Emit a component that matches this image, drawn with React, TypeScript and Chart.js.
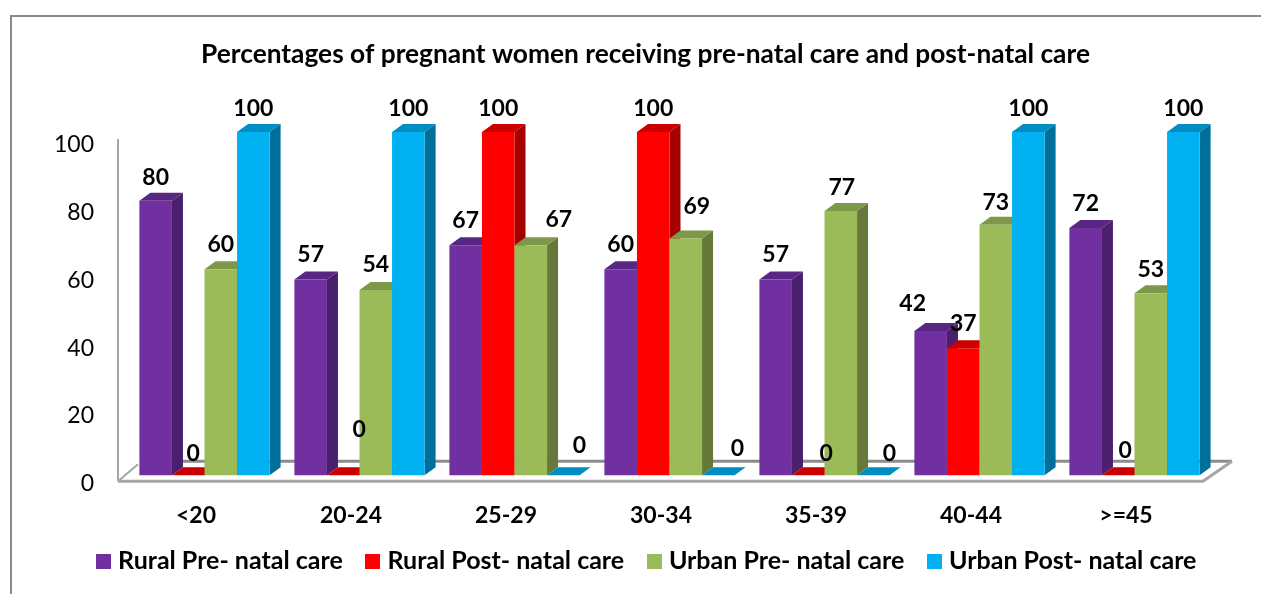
import React, { useEffect, useRef } from "react";
import { Chart, registerables } from "chart.js";

Chart.register(...registerables);

const categories = ["<20", "20-24", "25-29", "30-34", "35-39", "40-44", ">=45"];
const ruralPre = [80, 57, 67, 60, 57, 42, 72];
const ruralPost = [0, 0, 100, 100, 0, 37, 0];
const urbanPre = [60, 54, 67, 69, 77, 73, 53];
const urbanPost = [100, 100, 0, 0, 0, 100, 100];
const wallTicks = [0, 20, 40, 60, 80, 100];
const titleText = "Percentages of pregnant women receiving pre-natal care and post-natal care";

// label nudges [dx, dy] away from the default spot above each bar
const labelNudges: Record<string, [number, number]> = {
  "0:0": [0, 2],
  "0:5": [-18, -3],
  "1:0": [5, 3],
  "1:1": [16, -21],
  "1:2": [0, 2],
  "1:3": [0, 2],
  "1:4": [18, 3],
  "1:6": [7, 0],
  "2:2": [28, -1],
  "2:3": [11, -7],
  "2:4": [1, 2],
  "2:5": [0, 3],
  "2:6": [0, 1],
  "3:0": [0, 2],
  "3:1": [0, 2],
  "3:2": [16, -5],
  "3:3": [19, -2],
  "3:4": [16, 3],
  "3:5": [0, 2],
  "3:6": [0, 2],
};

const FONT = "Lato, Carlito, 'Noto Sans', sans-serif";
const FRONT = ["#7030A0", "#FF0000", "#9BBB59", "#00B0F0"];
const TOPS = ["#5A2683", "#CC0000", "#7D9848", "#008DC1"];
const SIDES = ["#4A1F6B", "#A60000", "#66793A", "#00709A"];
const DX = 11;
const DY = 8;

const makeSwatch = (color: string) => {
  const c = document.createElement("canvas");
  c.width = 15;
  c.height = 15;
  const g = c.getContext("2d") as CanvasRenderingContext2D;
  g.fillStyle = color;
  g.fillRect(0, 0, 15, 15);
  return c;
};

const threeD = {
  id: "threeD",
  afterLayout(chart: any) {
    chart.legend.left += 7;
    chart.scales.x.bottom = chart.height;
  },
  beforeDraw(chart: any) {
    const { ctx, width, height } = chart;
    ctx.save();
    ctx.fillStyle = "#fff";
    ctx.fillRect(0, 0, width, height);
    ctx.strokeStyle = "#8A8A8A";
    ctx.lineWidth = 2;
    ctx.beginPath();
    ctx.moveTo(width, 16);
    ctx.lineTo(11, 16);
    ctx.lineTo(11, height);
    ctx.stroke();
    ctx.restore();
  },
  beforeDatasetsDraw(chart: any) {
    const { ctx, chartArea } = chart;
    const l = chartArea.left - 9;
    const r = chartArea.right - 9;
    const b = chartArea.bottom;
    ctx.save();
    ctx.lineWidth = 3;
    ctx.strokeStyle = "#8C8C8C";
    ctx.beginPath();
    ctx.moveTo(l + 22, b - 20);
    ctx.lineTo(r + 29, b - 20);
    ctx.stroke();
    ctx.strokeStyle = "#A6A6A6";
    ctx.beginPath();
    ctx.moveTo(r + 29, b - 20);
    ctx.lineTo(r, b);
    ctx.lineTo(l, b);
    ctx.stroke();
    ctx.lineWidth = 2;
    ctx.beginPath();
    ctx.moveTo(l, b);
    ctx.lineTo(l + 20, b - 17);
    ctx.moveTo(l, b);
    ctx.lineTo(l, chartArea.top + 7);
    ctx.stroke();
    ctx.restore();

    chart.data.datasets.forEach((_: any, d: number) => {
      const meta = chart.getDatasetMeta(d);
      meta.data.forEach((bar: any) => {
        const { x, y, base, width: w } = bar.getProps(["x", "y", "base", "width"], true);
        const x0 = x - w / 2;
        const x1 = x + w / 2;
        ctx.save();
        ctx.fillStyle = SIDES[d];
        ctx.beginPath();
        ctx.moveTo(x1, y);
        ctx.lineTo(x1 + DX, y - DY);
        ctx.lineTo(x1 + DX, base - DY);
        ctx.lineTo(x1, base);
        ctx.closePath();
        ctx.fill();
        ctx.fillStyle = TOPS[d];
        ctx.beginPath();
        ctx.moveTo(x0, y);
        ctx.lineTo(x0 + DX, y - DY);
        ctx.lineTo(x1 + DX, y - DY);
        ctx.lineTo(x1, y);
        ctx.closePath();
        ctx.fill();
        ctx.restore();
        bar.draw(ctx);
      });
    });
    return false;
  },
  afterDraw(chart: any) {
    const { ctx } = chart;
    ctx.save();
    ctx.font = `bold 23px ${FONT}`;
    ctx.fillStyle = "#000";
    ctx.textAlign = "center";
    ctx.textBaseline = "middle";
    chart.data.datasets.forEach((ds: any, d: number) => {
      chart.getDatasetMeta(d).data.forEach((bar: any, i: number) => {
        const [nx, ny] = labelNudges[`${d}:${i}`] || [0, 0];
        ctx.fillText(String(ds.data[i]), bar.x + nx, bar.y - 25 + ny);
      });
    });
    ctx.restore();
  },
};

export default function App() {
  const ref = useRef<HTMLCanvasElement>(null);
  useEffect(() => {
    const series = [ruralPre, ruralPost, urbanPre, urbanPost];
    const names = [
      "Rural Pre- natal care",
      "Rural Post- natal care",
      "Urban Pre- natal care",
      "Urban Post- natal care",
    ];
    const swatches = FRONT.map(makeSwatch);
    const chart = new Chart(ref.current as HTMLCanvasElement, {
      type: "bar",
      data: {
        labels: categories,
        datasets: series.map((data, i) => ({
          label: names[i],
          data,
          backgroundColor: FRONT[i],
          borderWidth: 0,
          yAxisID: "y",
          categoryPercentage: 0.84,
          barPercentage: 1,
        })),
      },
      plugins: [threeD],
      options: {
        responsive: false,
        animation: false,
        layout: { padding: { left: 30, right: 0, top: 0, bottom: 10.5 } },
        plugins: {
          title: {
            display: true,
            text: titleText,
            color: "#000",
            font: { family: FONT, size: 26.3, weight: "bold" },
            padding: { top: 39.2, bottom: 61.2 },
          },
          legend: {
            position: "bottom",
            labels: {
              color: "#000",
              usePointStyle: true,
              boxWidth: 4,
              boxHeight: 15,
              padding: 28.2,
              font: { family: FONT, size: 25, weight: "bold" },
              generateLabels: (c: any) =>
                Chart.defaults.plugins.legend.labels
                  .generateLabels(c)
                  .map((item: any, i: number) => ({ ...item, pointStyle: swatches[i] })),
            },
          },
          tooltip: { enabled: false },
        },
        scales: {
          x: {
            grid: { display: false, drawTicks: false },
            border: { display: false },
            afterFit: (s: any) => {
              s.height = 39;
            },
            ticks: {
              color: "#000",
              labelOffset: -8.5,
              padding: 20,
              maxRotation: 0,
              autoSkip: false,
              font: { family: FONT, size: 23, weight: "bold" },
            },
          },
          y: { display: false, min: -1.75, max: 100 },
          yWall: {
            position: "left",
            min: 0.74,
            max: 103.69,
            grid: { display: false, drawTicks: false },
            border: { display: false },
            afterBuildTicks: (s: any) => {
              s.ticks = wallTicks.map((value) => ({ value }));
            },
            afterFit: (s: any) => {
              s.width = 97;
            },
            ticks: {
              color: "#000",
              padding: 33,
              font: { family: FONT, size: 23 },
            },
          },
          rightGap: {
            position: "right",
            min: 0,
            max: 1,
            grid: { display: false, drawTicks: false },
            border: { display: false },
            ticks: { display: false },
            afterFit: (s: any) => {
              s.width = 49;
            },
          },
        },
      },
    } as any);
    return () => chart.destroy();
  }, []);
  return (
    <div style={{ position: "fixed", left: 0, top: 0, width: 1261, height: 594 }}>
      <canvas ref={ref} width={1261} height={594} style={{ display: "block" }} />
    </div>
  );
}
